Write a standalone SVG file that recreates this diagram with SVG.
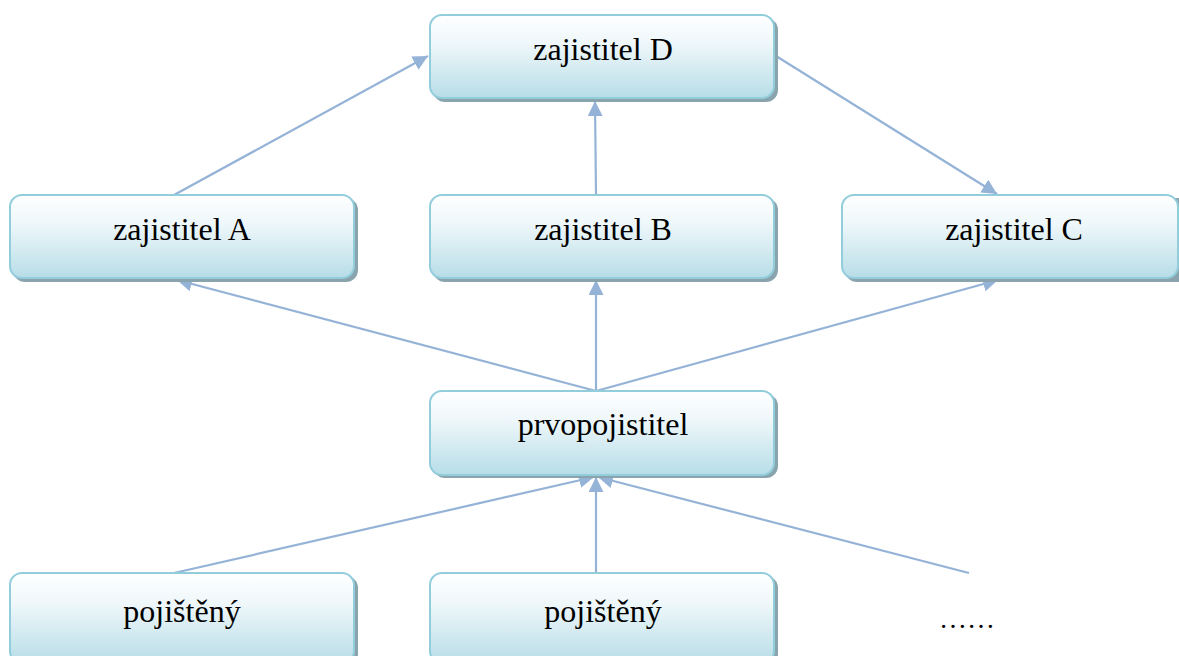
<svg xmlns="http://www.w3.org/2000/svg" width="1179" height="656" viewBox="0 0 1179 656">
<defs>
<linearGradient id="g" x1="0" y1="0" x2="0" y2="1">
<stop offset="0" stop-color="#ffffff"/>
<stop offset="0.35" stop-color="#eef7fa"/>
<stop offset="1" stop-color="#b7dde7"/>
</linearGradient>
<marker id="ah" viewBox="0 0 10 10" refX="10" refY="5" markerWidth="15" markerHeight="15" markerUnits="userSpaceOnUse" orient="auto">
<path d="M0,0 L10,5 L0,10 z" fill="#95b3d7"/>
</marker>
<style>
.sh{fill:#8aa4ae}
.bx{fill:url(#g);stroke:#92cddc;stroke-width:2}
.t{font-family:"Liberation Serif","Times New Roman",serif;font-size:32px;fill:#000;text-anchor:middle}
.c{stroke:#95b3d7;stroke-width:2.2;fill:none;marker-end:url(#ah)}
</style>
</defs>
<g id="connectors">
<line class="c" x1="174" y1="195" x2="428" y2="56"/>
<line class="c" x1="596" y1="195" x2="595" y2="101"/>
<line class="c" x1="776" y1="56" x2="997" y2="194"/>
<line class="c" x1="596" y1="391" x2="177" y2="280"/>
<line class="c" x1="596" y1="391" x2="596" y2="280"/>
<line class="c" x1="596" y1="391" x2="998" y2="280"/>
<line class="c" x1="174" y1="573" x2="594" y2="477"/>
<line class="c" x1="596" y1="573" x2="596" y2="477"/>
<line class="c" x1="969" y1="573" x2="598" y2="477"/>
</g>
<g id="nodeD">
<rect class="sh" x="433" y="18" width="345" height="84" rx="12"/>
<rect class="bx" x="430" y="15" width="344" height="83" rx="12"/>
<text class="t" x="603" y="60">zajistitel D</text>
</g>
<g id="nodeA">
<rect class="sh" x="13" y="198" width="345" height="84" rx="12"/>
<rect class="bx" x="10" y="195" width="344" height="83" rx="12"/>
<text class="t" x="182" y="240">zajistitel A</text>
</g>
<g id="nodeB">
<rect class="sh" x="433" y="198" width="345" height="84" rx="12"/>
<rect class="bx" x="430" y="195" width="344" height="83" rx="12"/>
<text class="t" x="603" y="240">zajistitel B</text>
</g>
<g id="nodeC">
<rect class="sh" x="845" y="198" width="345" height="84" rx="12"/>
<rect class="bx" x="842" y="195" width="336" height="83" rx="12"/>
<text class="t" x="1014" y="240">zajistitel C</text>
</g>
<g id="nodeP">
<rect class="sh" x="433" y="394" width="345" height="84" rx="12"/>
<rect class="bx" x="430" y="391" width="344" height="84" rx="12"/>
<text class="t" x="603" y="435">prvopojistitel</text>
</g>
<g id="nodeI1">
<rect class="sh" x="13" y="576" width="345" height="90" rx="12"/>
<rect class="bx" x="10" y="573" width="344" height="90" rx="12"/>
<text class="t" x="182" y="622">pojištěný</text>
</g>
<g id="nodeI2">
<rect class="sh" x="433" y="576" width="345" height="90" rx="12"/>
<rect class="bx" x="430" y="573" width="344" height="90" rx="12"/>
<text class="t" x="603" y="622">pojištěný</text>
</g>
<g id="dots">
<text class="t" x="967" y="628" style="font-size:28px">……</text>
</g>
</svg>
